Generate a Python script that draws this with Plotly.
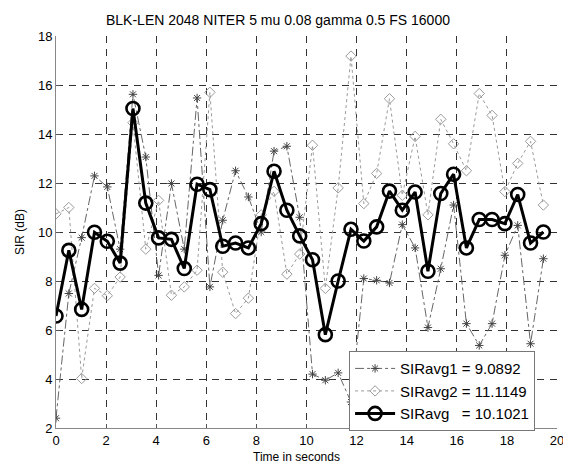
import plotly.graph_objects as go

# time axis: one point every 0.512 s (39 points)
time_s = [round(i * 0.512, 3) for i in range(39)]

sir_avg1 = [2.4, 7.49, 9.77, 12.29, 11.84, 9.3, 15.62, 13.06, 8.23, 11.98,
            9.3, 15.47, 7.76, 10.48, 12.5, 11.43, 10.0, 13.3, 13.5, 10.6,
            4.2, 3.95, 4.25, 3.06, 8.1, 8.03, 7.92, 10.3, 9.35, 6.1,
            8.5, 11.1, 6.26, 5.37, 6.26, 9.05, 10.27, 5.44, 8.91]

sir_avg2 = [10.74, 11.0, 4.02, 7.7, 7.4, 8.16, 14.46, 9.3, 11.29, 7.42,
            7.76, 8.44, 15.7, 8.36, 6.67, 7.3, 10.7, 11.66, 8.28, 9.1,
            13.54, 7.7, 11.8, 17.18, 11.16, 12.39, 15.44, 11.5, 13.9, 10.7,
            14.6, 13.6, 12.5, 15.65, 14.76, 11.65, 12.8, 13.7, 11.1]

sir_avg = [6.57, 9.25, 6.84, 9.99, 9.62, 8.73, 15.04, 11.18, 9.76, 9.70,
           8.51, 11.95, 11.73, 9.42, 9.55, 9.35, 10.34, 12.48, 10.89, 9.84,
           8.87, 5.81, 8.00, 10.11, 9.63, 10.21, 11.67, 10.89, 11.63, 8.40,
           11.57, 12.36, 9.35, 10.51, 10.51, 10.34, 11.53, 9.55, 10.00]

legend_names = ["SIRavg1 = 9.0892", "SIRavg2 = 11.1149", "SIRavg   = 10.1021"]
x_ticks = [0, 2, 4, 6, 8, 10, 12, 14, 16, 18, 20]
y_ticks = [2, 4, 6, 8, 10, 12, 14, 16, 18]

FONT = "Liberation Sans, Arial, sans-serif"

fig = go.Figure()
fig.add_trace(go.Scatter(
    x=time_s, y=sir_avg1, mode="lines+markers", name=legend_names[0],
    line=dict(color="#666666", width=1, dash="dashdot"),
    marker=dict(symbol="asterisk-open", size=7, color="#444444",
                line=dict(color="#444444", width=1)),
))
fig.add_trace(go.Scatter(
    x=time_s, y=sir_avg2, mode="lines+markers", name=legend_names[1],
    line=dict(color="#9a9a9a", width=1, dash="dot"),
    marker=dict(symbol="diamond-open", size=8, color="#9a9a9a",
                line=dict(color="#9a9a9a", width=1)),
))
fig.add_trace(go.Scatter(
    x=time_s, y=sir_avg, mode="lines+markers", name=legend_names[2],
    line=dict(color="black", width=3),
    marker=dict(symbol="circle-open", size=13, color="black",
                line=dict(color="black", width=2.6)),
))

grid_common = dict(
    showgrid=True, gridcolor="#333333", gridwidth=1, griddash="7px,6px",
    zeroline=False, showline=True, linecolor="#888888", linewidth=1,
    ticks="inside", ticklen=4, tickcolor="#555555",
    tickfont=dict(family=FONT, size=13, color="black"),
    ticklabeloverflow="allow",
)

# page has an 8px body margin, so the figure is sized to fit the window
fig.update_layout(
    width=563, height=458,
    margin=dict(l=48, r=7, t=28, b=38),
    paper_bgcolor="white", plot_bgcolor="white",
    showlegend=True,
    legend=dict(
        x=0.585, y=0.196, xanchor="left", yanchor="top",
        bgcolor="white", bordercolor="#777777", borderwidth=1,
        font=dict(family=FONT, size=15, color="black"),
        tracegroupgap=0, itemwidth=40,
    ),
    xaxis=dict(range=[0, 20], tickvals=x_ticks, **grid_common),
    yaxis=dict(range=[2, 18], tickvals=y_ticks, **grid_common),
    annotations=[
        dict(text="BLK-LEN 2048 NITER 5 mu 0.08 gamma 0.5 FS 16000",
             xref="paper", yref="paper", x=(281 - 56) / 508, y=1.0,
             yshift=6, xanchor="center", yanchor="bottom", showarrow=False,
             font=dict(family=FONT, size=14, color="black")),
        dict(text="Time in seconds", xref="paper", yref="paper",
             x=(300 - 56) / 508, y=0, yshift=-20, xanchor="center",
             yanchor="top", showarrow=False,
             font=dict(family=FONT, size=12, color="black")),
        dict(text="SIR (dB)", xref="paper", yref="paper",
             x=0, xshift=-36, y=(428 - 232) / 392, textangle=-90,
             xanchor="center", yanchor="middle", showarrow=False,
             font=dict(family=FONT, size=12, color="black")),
    ],
)

fig.write_html("out.html")
